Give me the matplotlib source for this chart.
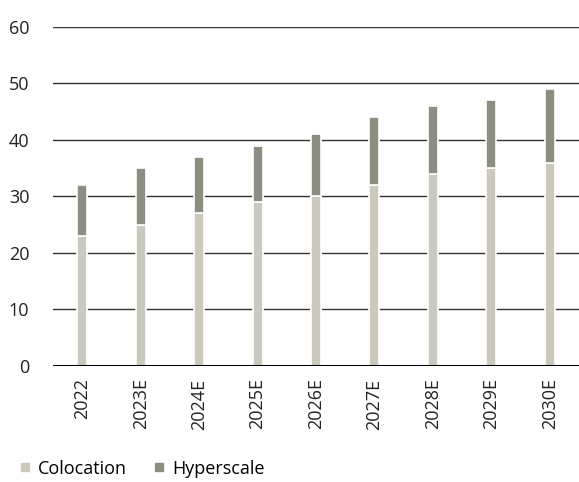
import matplotlib
matplotlib.use("Agg")
import matplotlib.pyplot as plt
from matplotlib.lines import Line2D

years = ["2022", "2023E", "2024E", "2025E", "2026E", "2027E", "2028E", "2029E", "2030E"]
colocation = [23, 25, 27, 29, 30, 32, 34, 35, 36]
hyperscale = [9, 10, 10, 10, 11, 12, 12, 12, 13]

COLO = "#cbc9bb"
HYPER = "#8d8d80"
INK = "#222222"

plt.rcParams["font.family"] = ["Open Sans", "DejaVu Sans"]

fig = plt.figure(figsize=(5.79, 4.82), dpi=100)
ax = fig.add_axes([0.0915, 0.2407, 0.9085, 0.7033])

x = list(range(len(years)))
w = 0.17
ax.bar(x, colocation, width=w, color=COLO, edgecolor="white", linewidth=1.2, zorder=3)
ax.bar(x, hyperscale, width=w, bottom=colocation, color=HYPER, edgecolor="white",
       linewidth=1.2, zorder=3)

ax.set_ylim(0, 60)
ax.set_xlim(-0.5, len(years) - 0.5)
ax.set_yticks(range(0, 61, 10))
ax.yaxis.grid(True, color="#333333", lw=1.0, zorder=0)
ax.set_axisbelow(True)
for s in ["top", "right", "left", "bottom"]:
    ax.spines[s].set_visible(False)
ax.axhline(0, color="black", lw=2.2, zorder=4)

ax.set_xticks(x)
ax.set_xticklabels(years, rotation=90, fontsize=13, color=INK)
ax.tick_params(axis="both", length=0, labelsize=13, colors=INK)
ax.tick_params(axis="x", pad=9)
ax.tick_params(axis="y", pad=17)

handles = [Line2D([], [], marker="s", ls="", color=COLO, markersize=6),
           Line2D([], [], marker="s", ls="", color=HYPER, markersize=6)]
fig.legend(handles, ["Colocation", "Hyperscale"], loc="lower left",
           bbox_to_anchor=(0.0, -0.025), ncol=2, frameon=False, fontsize=13,
           handletextpad=0.2, columnspacing=1.3, handlelength=1.0)

fig.savefig("out.png", dpi=100, facecolor="white")
